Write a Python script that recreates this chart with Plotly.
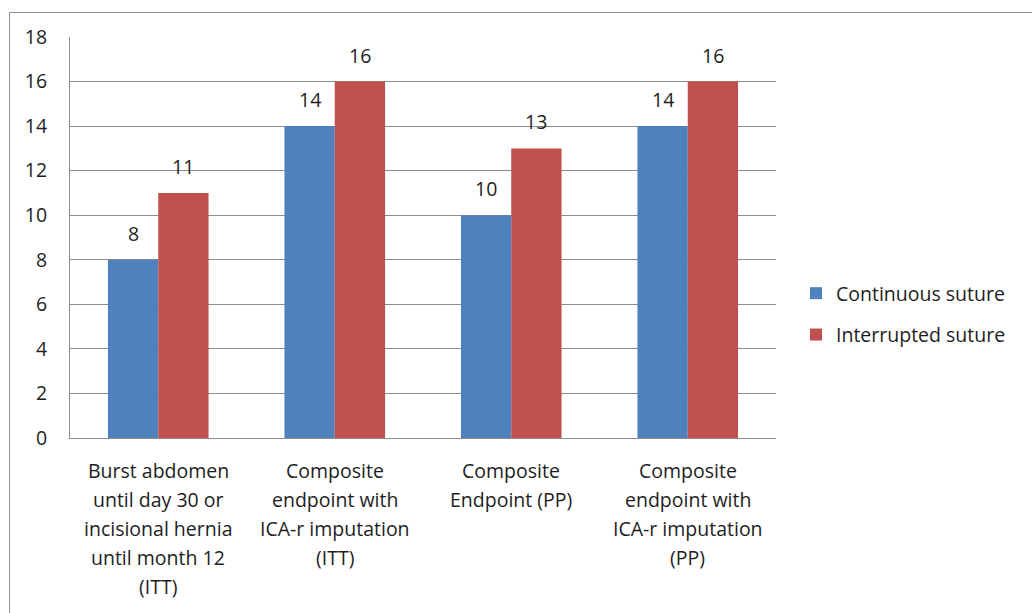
import plotly.graph_objects as go

categories = [
    "Burst abdomen<br>until day 30 or<br>incisional hernia<br>until month 12<br>(ITT)",
    "Composite<br>endpoint with<br>ICA-r imputation<br>(ITT)",
    "Composite<br>Endpoint (PP)",
    "Composite<br>endpoint with<br>ICA-r imputation<br>(PP)",
]
series_names = ["Continuous suture", "Interrupted suture"]
continuous = [8, 14, 10, 14]
interrupted = [11, 16, 13, 16]
y_ticks = [0, 2, 4, 6, 8, 10, 12, 14, 16, 18]

BLUE = "#4F81BD"
RED = "#C0504D"
GRID = "#8C8C8C"
TXT = "#1E1E1E"
FONT = "Open Sans"
FS = 19.5

W, H = 1032, 613
L, R, T, B = 70, 256, 37, 175
PW = W - L - R
PH = H - T - B

fig = go.Figure()
for i, (name, vals, col) in enumerate([(series_names[0], continuous, BLUE),
                                        (series_names[1], interrupted, RED)]):
    fig.add_trace(go.Bar(
        x=list(range(len(categories))), y=vals, name=name,
        marker=dict(color=col, line=dict(width=0)),
        legendgroup=f"g{i}",
    ))

annotations = []
bar_off = 25
for vals, sh in [(continuous, -bar_off), (interrupted, bar_off)]:
    for i, v in enumerate(vals):
        annotations.append(dict(
            x=i, y=v, xref="x", yref="y", text=str(v), showarrow=False,
            xshift=sh, yshift=11, yanchor="bottom",
            font=dict(family=FONT, size=FS, color=TXT),
        ))

line_gap = 29
for i, c in enumerate(categories):
    for j, line in enumerate(c.split("<br>")):
        annotations.append(dict(
            x=i, y=0, xref="x", yref="paper", text=line, showarrow=False,
            yanchor="middle", yshift=-(32 + j * line_gap),
            font=dict(family=FONT, size=FS, color=TXT),
        ))

fig.update_layout(
    width=W, height=H,
    margin=dict(l=L, r=R, t=T, b=B, pad=0),
    paper_bgcolor="white", plot_bgcolor="white",
    barmode="group", bargap=0.43, bargroupgap=0,
    font=dict(family=FONT, size=FS, color=TXT),
    xaxis=dict(
        range=[-0.5, len(categories) - 0.5], showticklabels=False,
        showgrid=False, showline=True, linecolor=GRID, linewidth=1,
        ticks="", zeroline=False, fixedrange=True,
    ),
    yaxis=dict(
        range=[0, 18], tickvals=y_ticks, showgrid=True, gridcolor=GRID,
        gridwidth=1, showline=True, linecolor=GRID, linewidth=1,
        zeroline=False, ticks="", ticklabelstandoff=18,
        tickfont=dict(family=FONT, size=FS, color=TXT),
    ),
    legend=dict(
        x=(796 - L) / PW, xanchor="left", y=(438 - 314) / PH, yanchor="middle",
        font=dict(family=FONT, size=FS, color=TXT),
        tracegroupgap=13, bgcolor="rgba(0,0,0,0)",
    ),
    annotations=annotations,
    shapes=[dict(
        type="rect", xref="paper", yref="paper",
        x0=(9.5 - L) / PW, x1=(1040 - L) / PW,
        y0=-(B + 20) / PH, y1=1 + (T - 12.5) / PH,
        line=dict(color="#8C8C8C", width=1), fillcolor="rgba(0,0,0,0)",
        layer="below",
    )],
    showlegend=True,
)

fig.write_html("out.html")
